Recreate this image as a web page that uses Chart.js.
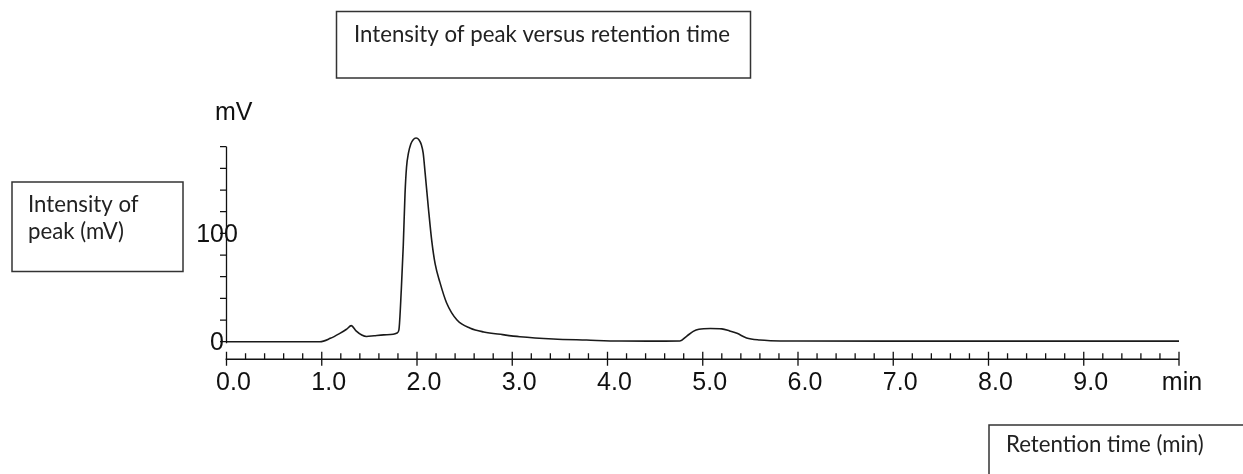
<!DOCTYPE html>
<html>
<head>
<meta charset="utf-8">
<script src="https://cdn.jsdelivr.net/npm/chart.js@4"></script>
<style>
  html, body { margin: 0; padding: 0; background: #ffffff; }
  #wrap { width: 1243px; height: 474px; }
</style>
</head>
<body>
<div id="wrap"><canvas id="chromChart" width="1243" height="474"></canvas></div>
<script>
// chromatogram trace
const retentionTimes = [0, 0.5, 0.98, 1.09, 1.19, 1.26, 1.31, 1.36, 1.42, 1.47, 1.55, 1.65, 1.75, 1.79, 1.81,
  1.835, 1.856, 1.874, 1.89, 1.91, 1.935, 1.96, 1.99, 2.02, 2.045, 2.065, 2.085, 2.12, 2.155, 2.19,
  2.24, 2.31, 2.42, 2.56, 2.70, 2.90, 3.08, 3.43, 3.78, 4.13, 4.60, 4.76, 4.83, 4.90, 4.96,
  5.08, 5.20, 5.28, 5.36, 5.46, 5.60, 5.71, 6.0, 7.0, 8.0, 9.0, 10.0];
const intensities = [0, 0, 0, 3.1, 7.7, 11.5, 14.8, 10, 6.2, 4.8, 5.5, 6.3, 6.8, 8, 11,
  47.7, 89, 136, 161, 174, 182.5, 186.5, 188, 186.5, 182, 174, 156, 123, 93, 72,
  55, 36, 20, 12.4, 9, 6.5, 4.6, 2.5, 1.5, 0.6, 0.5, 0.6, 5, 9.5, 11.5,
  12.2, 11.8, 10, 7.7, 3.5, 1.5, 0.9, 0.6, 0.5, 0.5, 0.5, 0.5];

const xTickValues = [0, 1, 2, 3, 4, 5, 6, 7, 8, 9];
const xTickLabels = ["0.0", "1.0", "2.0", "3.0", "4.0", "5.0", "6.0", "7.0", "8.0", "9.0"];
const yTickValues = [0, 100];
const yTickLabels = ["0", "100"];

const chartTitle = "Intensity of peak versus retention time";
const yBoxLines = ["Intensity of", "peak (mV)"];
const xBoxText = "Retention time (min)";

const AXIS_FONT = "25px 'Liberation Sans', Arial, sans-serif";
const BOX_FONT_FAMILY = "Lato";

/* ------------------------------
   axes + text boxes, drawn with the chart's scales
------------------------------- */
const chromAxes = {
    id: "chromAxes",
    afterDatasetsDraw(chart) {
        const ctx = chart.ctx;
        const xs = chart.scales.x;
        const ys = chart.scales.y;
        const axisY = ys.getPixelForValue(-16.2);
        const axisX = xs.getPixelForValue(0);

        ctx.save();
        ctx.strokeStyle = "#111";
        ctx.fillStyle = "#111";
        ctx.lineWidth = 1.3;

        // x axis line + ticks
        ctx.beginPath();
        ctx.moveTo(axisX - 1, axisY);
        ctx.lineTo(xs.getPixelForValue(10), axisY);
        for (let i = 0; i <= 50; i++) {
            const px = xs.getPixelForValue(i / 5);
            if (i % 5 === 0) {
                ctx.moveTo(px, axisY - 7.5);
                ctx.lineTo(px, axisY + 6.5);
            } else {
                ctx.moveTo(px, axisY - 6);
                ctx.lineTo(px, axisY);
            }
        }
        // y axis line + ticks
        ctx.moveTo(axisX, ys.getPixelForValue(0) + 1.5);
        ctx.lineTo(axisX, ys.getPixelForValue(180));
        for (let v = 0; v <= 180; v += 20) {
            const py = ys.getPixelForValue(v);
            ctx.moveTo(axisX - 6.5, py);
            ctx.lineTo(axisX, py);
        }
        ctx.stroke();

        ctx.font = AXIS_FONT;
        ctx.textAlign = "center";
        ctx.textBaseline = "alphabetic";
        xTickValues.forEach((v, i) => {
            ctx.fillText(xTickLabels[i], xs.getPixelForValue(v) + 7, axisY + 31);
        });
        ctx.fillText("min", xs.getPixelForValue(10) + 3, axisY + 31);

        ctx.textBaseline = "middle";
        yTickValues.forEach((v, i) => {
            ctx.fillText(yTickLabels[i], axisX - 9.5, ys.getPixelForValue(v) + 1.5);
        });
        ctx.textAlign = "left";
        ctx.textBaseline = "alphabetic";
        ctx.fillText("mV", axisX - 11.5, 120);

        // annotation boxes
        ctx.font = "100px " + BOX_FONT_FAMILY;
        const boxSize = 100 * 376 / ctx.measureText(chartTitle).width;
        ctx.font = boxSize.toFixed(2) + "px " + BOX_FONT_FAMILY;
        ctx.strokeStyle = "#333";
        ctx.lineWidth = 1.5;
        ctx.fillStyle = "#222";

        ctx.strokeRect(336.5, 11.5, 414, 66.5);
        ctx.fillText(chartTitle, 354, 42);

        ctx.strokeRect(12, 182, 171, 89.5);
        ctx.fillText(yBoxLines[0], 28, 211.5);
        ctx.fillText(yBoxLines[1], 28, 239);

        ctx.strokeRect(989, 425, 300, 100);
        ctx.fillText(xBoxText, 1006, 452);
        ctx.restore();
    }
};

new Chart(document.getElementById("chromChart"), {
    type: "line",
    data: {
        datasets: [{
            data: retentionTimes.map((t, i) => ({ x: t, y: intensities[i] })),
            borderColor: "#1a1a1a",
            borderWidth: 1.6,
            pointRadius: 0,
            fill: false,
            cubicInterpolationMode: "monotone"
        }]
    },
    options: {
        responsive: false,
        devicePixelRatio: 1,
        animation: false,
        layout: { padding: { left: 226.5, right: 64, top: 130.45, bottom: 114.75 } },
        plugins: { legend: { display: false }, tooltip: { enabled: false } },
        scales: {
            x: { type: "linear", min: 0, max: 10, display: false },
            y: { min: -16.2, max: 195, display: false }
        }
    },
    plugins: [chromAxes]
});
</script>
</body>
</html>
